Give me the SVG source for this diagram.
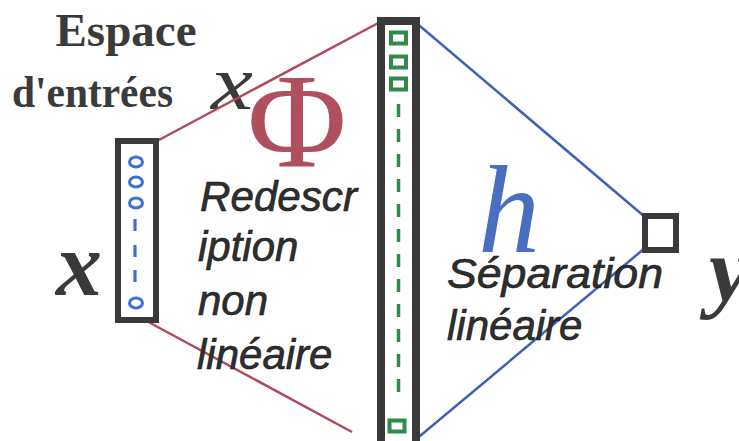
<svg xmlns="http://www.w3.org/2000/svg" width="739" height="441" viewBox="0 0 739 441">
<style>
.title{font-family:"Liberation Serif",serif;font-weight:bold;fill:#3a3a3a}
.lbl{font-family:"Liberation Sans",Arial,sans-serif;font-style:italic;font-size:42px;fill:#2f2f2f;stroke:#111;stroke-width:0.6}
.var{font-family:"Liberation Serif",serif;font-style:italic;font-weight:bold;font-size:92px;fill:#3a3a3a}
.box{fill:#fff;stroke:#3a3a3a}
.red{stroke:#b24a5e;stroke-width:2.5;fill:none}
.blue{stroke:#3c62b5;stroke-width:2.5;fill:none}
.gsq{fill:none;stroke:#2e8b4a;stroke-width:4}
.bc{fill:none;stroke:#3f6fd6;stroke-width:3}
.bd{stroke:#3f6fd6;stroke-width:3.2}
</style>
<rect width="739" height="441" fill="#fff"/>
<g id="title">
<text class="title" x="126" y="46" font-size="47" text-anchor="middle">Espace</text>
<text class="title" x="12" y="107" font-size="44" textLength="161" lengthAdjust="spacingAndGlyphs">d'entrées</text>
<text x="211" y="109" font-family="Liberation Serif,serif" font-style="italic" font-size="78" fill="#3a3a3a" textLength="42" lengthAdjust="spacingAndGlyphs">x</text>
</g>
<g id="connectors">
<line class="red" x1="157" y1="141" x2="382" y2="21"/>
<line class="red" x1="130" y1="312" x2="352" y2="432"/>
<line class="blue" x1="414" y1="21" x2="645" y2="217"/>
<line class="blue" x1="645" y1="248" x2="414" y2="441"/>
</g>
<g id="input">
<rect class="box" x="118" y="141" width="38" height="179" stroke-width="6"/>
<ellipse class="bc" cx="136" cy="162" rx="6.5" ry="5"/>
<ellipse class="bc" cx="136" cy="182" rx="6.5" ry="5"/>
<ellipse class="bc" cx="136" cy="203" rx="6.5" ry="5"/>
<line class="bd" x1="135" y1="219" x2="135" y2="231"/>
<line class="bd" x1="135" y1="245" x2="135" y2="257"/>
<line class="bd" x1="135" y1="270" x2="135" y2="282"/>
<ellipse class="bc" cx="136" cy="303" rx="6.5" ry="5"/>
<text class="var" x="56" y="295">x</text>
</g>
<g id="phi">
<text x="297" y="167" font-family="Liberation Serif,serif" font-size="136" fill="#b0505f" text-anchor="middle">Φ</text>
<text class="lbl" x="200" y="211" textLength="157" lengthAdjust="spacingAndGlyphs">Redescr</text>
<text class="lbl" x="198" y="261">iption</text>
<text class="lbl" x="198" y="315">non</text>
<text class="lbl" x="197" y="369">linéaire</text>
</g>
<g id="feature">
<rect class="box" x="381" y="21" width="35" height="440" stroke-width="8"/>
<rect class="gsq" x="391" y="32.5" width="15" height="11"/>
<rect class="gsq" x="391" y="56.5" width="15" height="11"/>
<rect class="gsq" x="391" y="78.5" width="15" height="11"/>
<line x1="398.5" y1="104" x2="398.5" y2="398" stroke="#2e8b4a" stroke-width="3.5" stroke-dasharray="13 12"/>
<rect class="gsq" x="389.5" y="420.5" width="15" height="11"/>
</g>
<g id="h">
<text x="478" y="252" font-family="Liberation Serif,serif" font-style="italic" font-size="124" fill="#4a6fc0">h</text>
<text class="lbl" x="447" y="288" textLength="216" lengthAdjust="spacingAndGlyphs">Séparation</text>
<text class="lbl" x="447" y="340">linéaire</text>
</g>
<g id="output">
<rect class="box" x="645" y="216" width="31" height="34" stroke-width="6"/>
<text class="var" x="709" y="301" font-size="88">y</text>
</g>
</svg>
